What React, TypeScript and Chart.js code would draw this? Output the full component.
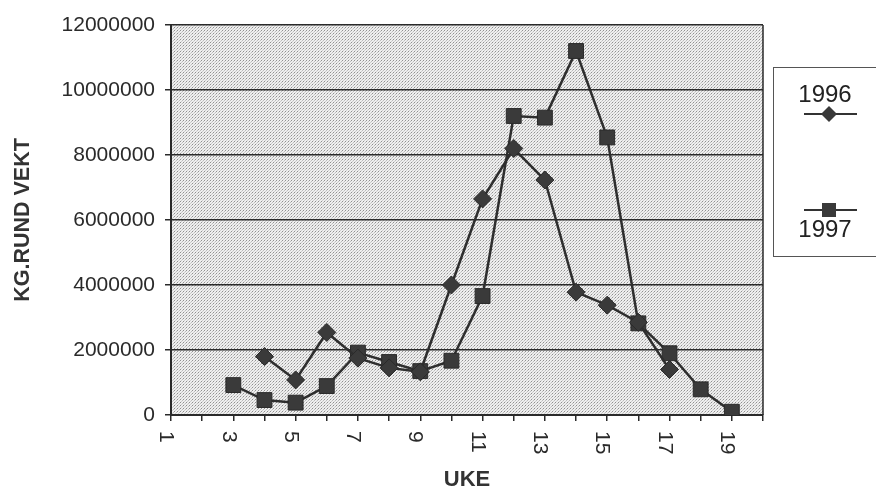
import { useEffect, useRef } from 'react';
import { Chart, registerables } from 'chart.js';

Chart.register(...registerables);

// ---- data ----
const weeks1996 = [4, 5, 6, 7, 8, 9, 10, 11, 12, 13, 14, 15, 16, 17];
const values1996 = [1800000, 1080000, 2540000, 1750000, 1450000, 1330000, 4000000, 6650000, 8200000, 7230000, 3780000, 3380000, 2850000, 1400000];
const weeks1997 = [3, 4, 5, 6, 7, 8, 9, 10, 11, 12, 13, 14, 15, 16, 17, 18, 19];
const values1997 = [920000, 460000, 380000, 890000, 1920000, 1630000, 1350000, 1670000, 3660000, 9200000, 9150000, 11200000, 8540000, 2820000, 1900000, 790000, 100000];
const xTickLabels = [1, 3, 5, 7, 9, 11, 13, 15, 17, 19];
const seriesNames = ['1996', '1997'];
const xTitle = 'UKE';
const yTitle = 'KG.RUND VEKT';

const FONT = '"Liberation Sans", Arial, sans-serif';
const DARK = '#2a2a2a';

export default function App() {
  const ref = useRef<HTMLCanvasElement | null>(null);

  useEffect(() => {
    document.body.style.margin = '0';
    const canvas = ref.current!;
    const ctx = canvas.getContext('2d')!;

    // stipple pattern for plot background
    const tile = document.createElement('canvas');
    tile.width = 3;
    tile.height = 3;
    const tctx = tile.getContext('2d')!;
    tctx.fillStyle = '#efefef';
    tctx.fillRect(0, 0, 3, 3);
    tctx.fillStyle = '#909090';
    tctx.fillRect(0, 0, 1, 1);
    tctx.fillStyle = '#bcbcbc';
    tctx.fillRect(2, 1, 1, 1);
    tctx.fillStyle = '#cccccc';
    tctx.fillRect(1, 2, 1, 1);
    const pattern = ctx.createPattern(tile, 'repeat')!;

    const decor = {
      id: 'decor',
      beforeDraw(chart: any) {
        const { ctx, chartArea: a } = chart;
        ctx.save();
        ctx.fillStyle = pattern;
        ctx.fillRect(a.left, a.top, a.right - a.left, a.bottom - a.top);
        ctx.restore();
      },
      afterDraw(chart: any) {
        const { ctx, chartArea: a } = chart;
        const xs = chart.scales.x;
        ctx.save();
        // right border
        ctx.strokeStyle = DARK;
        ctx.lineWidth = 1.5;
        ctx.beginPath();
        ctx.moveTo(a.right, a.top);
        ctx.lineTo(a.right, a.bottom);
        ctx.stroke();

        // x tick labels rotated clockwise
        ctx.fillStyle = DARK;
        ctx.font = `21px ${FONT}`;
        ctx.textAlign = 'left';
        ctx.textBaseline = 'middle';
        for (const v of xTickLabels) {
          const px = xs.getPixelForValue(v);
          ctx.save();
          ctx.translate(px - 5, 431);
          ctx.rotate(Math.PI / 2);
          ctx.fillText(String(v), 0, 0);
          ctx.restore();
        }

        // axis titles
        ctx.fillStyle = '#333';
        ctx.font = `bold 22px ${FONT}`;
        ctx.textAlign = 'center';
        ctx.textBaseline = 'alphabetic';
        ctx.fillText(xTitle, (a.left + a.right) / 2, 486);
        ctx.save();
        ctx.translate(28.5, (a.top + a.bottom) / 2);
        ctx.rotate(-Math.PI / 2);
        ctx.font = `bold 21.5px ${FONT}`;
        ctx.fillText(yTitle, 0, 0);
        ctx.restore();

        // legend
        ctx.strokeStyle = '#555';
        ctx.lineWidth = 1;
        ctx.strokeRect(773.5, 67.5, 130, 189);
        ctx.fillStyle = '#222';
        ctx.font = `24px ${FONT}`;
        ctx.textAlign = 'center';
        ctx.fillText(seriesNames[0], 825, 101.5);
        ctx.fillText(seriesNames[1], 825, 236.5);
        ctx.strokeStyle = '#333';
        ctx.lineWidth = 2;
        ctx.beginPath();
        ctx.moveTo(804, 114);
        ctx.lineTo(857, 114);
        ctx.moveTo(804, 210);
        ctx.lineTo(857, 210);
        ctx.stroke();
        ctx.fillStyle = '#3a3a3a';
        ctx.beginPath();
        ctx.moveTo(829, 106);
        ctx.lineTo(837, 114);
        ctx.lineTo(829, 122);
        ctx.lineTo(821, 114);
        ctx.closePath();
        ctx.fill();
        ctx.fillRect(822, 203, 14, 14);
        ctx.restore();
      },
    };

    const chart = new Chart(canvas, {
      type: 'line',
      data: {
        datasets: [
          {
            label: seriesNames[0],
            data: weeks1996.map((w, i) => ({ x: w, y: values1996[i] })),
            borderColor: '#2e2e2e',
            borderWidth: 2.5,
            pointStyle: 'rectRot',
            pointRadius: 9,
            pointBackgroundColor: '#3a3a3a',
            pointBorderColor: '#2a2a2a',
            pointBorderWidth: 1,
            tension: 0,
          },
          {
            label: seriesNames[1],
            data: weeks1997.map((w, i) => ({ x: w, y: values1997[i] })),
            borderColor: '#2e2e2e',
            borderWidth: 2.5,
            pointStyle: 'rect',
            pointRadius: 10.5,
            pointBackgroundColor: '#3a3a3a',
            pointBorderColor: '#2a2a2a',
            pointBorderWidth: 1,
            tension: 0,
          },
        ],
      },
      options: {
        responsive: false,
        animation: false,
        layout: { padding: { left: 0, top: 25, right: 113, bottom: 0 } },
        plugins: {
          legend: { display: false },
          tooltip: { enabled: false },
        },
        scales: {
          x: {
            type: 'linear',
            min: 1,
            max: 20,
            ticks: { stepSize: 1, callback: () => '', maxRotation: 0, autoSkip: false },
            grid: { drawOnChartArea: false, drawTicks: true, tickLength: 6, color: DARK, lineWidth: 1.5 },
            border: { display: true, color: DARK, width: 2 },
            afterFit: (s: any) => {
              s.height = 74;
            },
          },
          y: {
            type: 'linear',
            min: 0,
            max: 12000000,
            ticks: {
              stepSize: 2000000,
              padding: 10,
              color: DARK,
              font: { family: FONT, size: 21 },
              callback: (v: any) => String(v),
            },
            grid: { color: DARK, lineWidth: 1.5, tickLength: 6, drawTicks: true },
            border: { display: true, color: DARK, width: 2 },
            afterFit: (s: any) => {
              s.width = 171;
            },
          },
        },
      },
      plugins: [decor],
    });

    return () => chart.destroy();
  }, []);

  return (
    <div style={{ position: 'fixed', left: 0, top: 0, width: 876, height: 489, background: '#fff' }}>
      <canvas ref={ref} width={876} height={489} style={{ display: 'block' }} />
    </div>
  );
}
